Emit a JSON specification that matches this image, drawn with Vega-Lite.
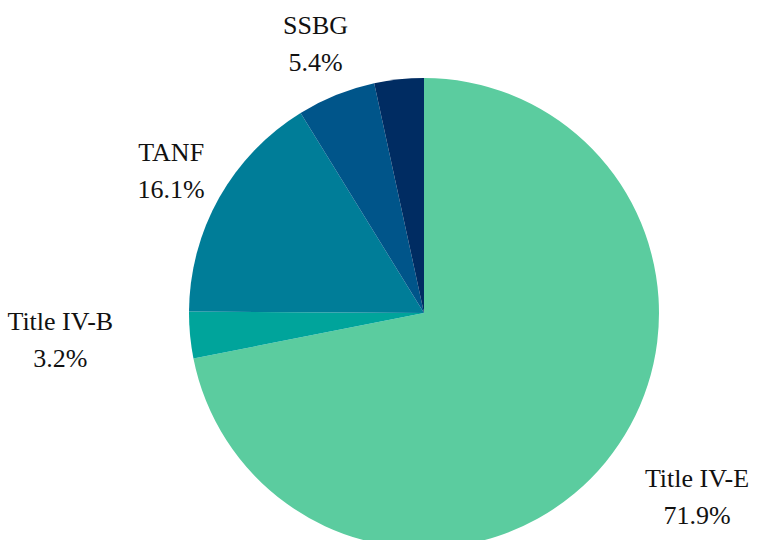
{
  "$schema": "https://vega.github.io/schema/vega-lite/v6.json",
  "width": 712,
  "height": 454,
  "padding": {"left": 68, "top": 86, "right": 0, "bottom": 0},
  "autosize": {"type": "none"},
  "background": "white",
  "config": {"view": {"stroke": null}, "text": {"font": "'Liberation Serif', 'Times New Roman', serif"}},
  "data": {"values": [
    {"idx": 1, "source": "Title IV-E", "pct": 71.9},
    {"idx": 2, "source": "Title IV-B", "pct": 3.2},
    {"idx": 3, "source": "TANF", "pct": 16.1},
    {"idx": 4, "source": "SSBG", "pct": 5.4},
    {"idx": 5, "source": "Other", "pct": 3.4}
  ]},
  "transform": [
    {"stack": "pct", "groupby": [], "sort": [{"field": "idx", "order": "ascending"}], "as": ["v0", "v1"]},
    {"calculate": "(datum.v0 + datum.v1) / 2", "as": "mid"},
    {"calculate": "datum.source == 'Other' ? '' : datum.source + '\\n' + format(datum.pct, '.1f') + '%'", "as": "label"}
  ],
  "layer": [
    {
      "mark": {"type": "arc", "outerRadius": 235, "strokeWidth": 0},
      "encoding": {
        "theta": {"field": "v0", "type": "quantitative", "scale": {"domain": [0, 100]}},
        "theta2": {"field": "v1"},
        "color": {
          "field": "source",
          "type": "nominal",
          "scale": {
            "domain": ["Title IV-E", "Title IV-B", "TANF", "SSBG", "Other"],
            "range": ["#5BCC9F", "#00A49B", "#007D98", "#00558A", "#002C62"]
          },
          "legend": null
        }
      }
    },
    {
      "transform": [{"filter": "datum.source == 'SSBG' || datum.source == 'TANF'"}],
      "mark": {"type": "text", "radius": 290, "dy": -18, "font": "'Liberation Serif', 'Times New Roman', serif", "fontSize": 26, "lineBreak": "\n", "lineHeight": 37, "baseline": "middle", "align": "center", "color": "#111111"},
      "encoding": {
        "theta": {"field": "mid", "type": "quantitative"},
        "text": {"field": "label"}
      }
    },
    {
      "transform": [{"filter": "datum.source == 'Title IV-B'"}],
      "mark": {"type": "text", "radius": 290, "dx": -75, "dy": -18, "font": "'Liberation Serif', 'Times New Roman', serif", "fontSize": 26, "lineBreak": "\n", "lineHeight": 37, "baseline": "middle", "align": "center", "color": "#111111"},
      "encoding": {
        "theta": {"field": "mid", "type": "quantitative"},
        "text": {"field": "label"}
      }
    },
    {
      "transform": [{"filter": "datum.source == 'Title IV-E'"}],
      "mark": {"type": "text", "radius": 290, "dx": 49, "dy": -18, "font": "'Liberation Serif', 'Times New Roman', serif", "fontSize": 26, "lineBreak": "\n", "lineHeight": 37, "baseline": "middle", "align": "center", "color": "#111111"},
      "encoding": {
        "theta": {"field": "mid", "type": "quantitative"},
        "text": {"field": "label"}
      }
    }
  ]
}
